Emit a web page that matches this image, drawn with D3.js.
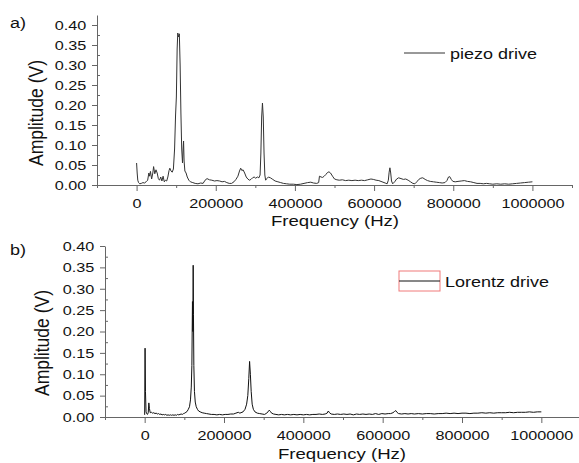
<!DOCTYPE html>
<html>
<head>
<meta charset="utf-8">
<script src="https://cdn.jsdelivr.net/npm/d3@7"></script>
<style>
  body { margin: 0; background: #fff; }
  svg { display: block; font-family: "Liberation Sans", Arial, sans-serif; }
</style>
</head>
<body>
<svg id="chart" width="579" height="463"></svg>
<script>
// piezo drive spectrum (Hz, V)
var piezoFreq = [0,1500,3000,5000,8000,12000,16000,20000,24000,28000,31000,33000,35000,38000,41000,43000,46000,49000,52000,55000,58000,61000,64000,67000,70000,73000,76000,79000,82000,84000,87000,90000,93000,96000,98500,100500,102500,104000,106000,108000,110000,112000,114000,116000,117500,118700,120000,122000,125000,128000,132000,136000,142000,148000,155000,162000,168000,173000,178000,184000,190000,197000,203000,210000,216000,222000,228000,234000,240000,246000,251000,256000,260000,263000,266000,269000,273000,277000,281000,285000,289000,293000,297000,301000,305000,309000,312000,314000,316000,318000,320000,322000,324000,326000,329000,333000,338000,344000,350000,357000,364000,371000,379000,387000,396000,405000,414000,423000,432000,440000,447000,455000,460000,462000,466000,470000,474000,478000,482000,486000,490000,495000,500000,506000,512000,520000,528000,536000,544000,552000,560000,568000,576000,584000,592000,598000,605000,612000,620000,628000,633000,636000,638000,640000,642000,644000,647000,652000,657000,662000,668000,674000,680000,686000,692000,698000,703000,708000,713000,718000,723000,729000,735000,742000,750000,757000,765000,772000,779000,784000,788000,791000,795000,799000,805000,812000,820000,828000,836000,844000,852000,860000,868000,876000,884000,892000,900000,910000,920000,930000,940000,950000,960000,970000,980000,990000,1000000];
var piezoAmp = [0.055,0.03,0.012,0.006,0.003,0.004,0.006,0.005,0.008,0.012,0.03,0.022,0.034,0.015,0.03,0.046,0.028,0.038,0.03,0.016,0.012,0.02,0.01,0.022,0.008,0.012,0.01,0.02,0.036,0.042,0.035,0.032,0.04,0.09,0.175,0.22,0.34,0.38,0.37,0.378,0.3,0.18,0.09,0.055,0.09,0.11,0.06,0.035,0.03,0.02,0.012,0.008,0.006,0.004,0.003,0.005,0.004,0.012,0.016,0.013,0.012,0.01,0.011,0.01,0.008,0.009,0.006,0.004,0.004,0.008,0.014,0.022,0.035,0.042,0.036,0.038,0.03,0.02,0.015,0.012,0.014,0.018,0.02,0.017,0.02,0.018,0.025,0.08,0.17,0.205,0.17,0.08,0.025,0.012,0.016,0.02,0.018,0.014,0.01,0.008,0.006,0.004,0.003,0.002,0.002,0.001,0.002,0.004,0.006,0.007,0.005,0.004,0.006,0.022,0.02,0.019,0.022,0.026,0.031,0.033,0.03,0.022,0.015,0.013,0.012,0.013,0.011,0.012,0.011,0.012,0.011,0.012,0.011,0.013,0.015,0.014,0.012,0.011,0.008,0.005,0.003,0.012,0.032,0.043,0.03,0.01,0.003,0.008,0.015,0.018,0.016,0.014,0.015,0.012,0.008,0.004,0.003,0.008,0.014,0.017,0.018,0.014,0.011,0.009,0.008,0.007,0.006,0.005,0.006,0.011,0.02,0.021,0.014,0.009,0.008,0.009,0.01,0.011,0.009,0.008,0.006,0.004,0.004,0.003,0.004,0.003,0.002,0.003,0.002,0.003,0.002,0.003,0.004,0.005,0.006,0.007,0.008];

// Lorentz drive spectrum (Hz, V)
var lorentzFreq = [0,1000,2000,3500,5000,7000,9000,10500,12000,14000,17000,20000,23000,26000,29000,32000,35000,38000,41000,44000,47000,50000,53000,56000,59000,62000,65000,68000,71000,74000,77000,80000,83000,86000,89000,92000,95000,98000,101000,104000,107000,110000,113000,115500,117500,119000,120500,121500,122300,123000,124000,125500,127500,130000,133000,136000,140000,145000,150000,156000,162000,168000,175000,182000,189000,196000,203000,210000,217000,224000,230000,236000,240000,248000,253000,257000,260000,262500,264500,266500,268500,271000,274000,278000,284000,290000,296000,302000,306000,311000,314000,317000,320000,325000,331000,338000,345000,352000,360000,368000,376000,384000,392000,400000,408000,416000,424000,432000,440000,448000,455000,460000,463000,466000,470000,478000,486000,494000,502000,510000,518000,526000,534000,542000,550000,558000,566000,574000,582000,590000,598000,606000,614000,620000,626000,630000,633000,636000,640000,648000,656000,664000,672000,680000,690000,700000,710000,720000,730000,740000,750000,760000,770000,780000,790000,800000,810000,820000,830000,840000,850000,860000,870000,880000,890000,900000,910000,920000,930000,940000,950000,960000,970000,980000,990000,1000000];
var lorentzAmp = [0.005,0.161,0.06,0.012,0.008,0.006,0.01,0.033,0.02,0.01,0.011,0.009,0.01,0.008,0.009,0.007,0.008,0.006,0.007,0.005,0.006,0.005,0.006,0.004,0.005,0.004,0.005,0.004,0.005,0.004,0.005,0.004,0.006,0.005,0.006,0.007,0.006,0.008,0.009,0.011,0.013,0.018,0.024,0.04,0.07,0.12,0.27,0.2,0.355,0.24,0.12,0.06,0.035,0.024,0.018,0.014,0.012,0.01,0.009,0.008,0.007,0.006,0.006,0.005,0.006,0.005,0.006,0.006,0.007,0.007,0.009,0.011,0.009,0.012,0.018,0.03,0.05,0.09,0.13,0.1,0.06,0.03,0.018,0.012,0.009,0.008,0.007,0.006,0.008,0.012,0.016,0.013,0.009,0.007,0.006,0.005,0.006,0.005,0.006,0.005,0.006,0.005,0.006,0.005,0.006,0.005,0.006,0.006,0.007,0.006,0.007,0.009,0.014,0.01,0.007,0.006,0.007,0.006,0.007,0.006,0.007,0.005,0.007,0.006,0.007,0.006,0.007,0.006,0.008,0.006,0.008,0.007,0.008,0.008,0.01,0.013,0.015,0.011,0.008,0.007,0.008,0.007,0.008,0.007,0.008,0.007,0.008,0.008,0.007,0.008,0.008,0.009,0.008,0.009,0.008,0.009,0.009,0.008,0.009,0.009,0.01,0.009,0.01,0.009,0.01,0.01,0.01,0.011,0.01,0.011,0.011,0.011,0.012,0.011,0.012,0.012];

var xMajor = [0, 200000, 400000, 600000, 800000, 1000000];
var xMinor = [-100000, 100000, 300000, 500000, 700000, 900000, 1100000];
var yMajor = [0, 0.05, 0.10, 0.15, 0.20, 0.25, 0.30, 0.35, 0.40];
var yMinor = [0.025, 0.075, 0.125, 0.175, 0.225, 0.275, 0.325, 0.375];

var svg = d3.select("#chart");
var axisColor = "#666";
var stretch = "scale(1.2,1)";

function panel(p) {
  var x = d3.scaleLinear().domain([-100000, 1100000]).range([p.left, p.right]);
  var y = d3.scaleLinear().domain([0, p.yMax]).range([p.bottom, p.top]);
  var g = svg.append("g");

  // minor ticks
  g.append("g").attr("transform", "translate(0," + p.bottom + ")")
    .call(d3.axisBottom(x).tickValues(xMinor).tickSize(3).tickFormat(""))
    .call(s => s.select(".domain").remove());
  g.append("g").attr("transform", "translate(" + p.left + ",0)")
    .call(d3.axisRight(y).tickValues(yMinor).tickSize(3).tickFormat(""))
    .call(s => s.select(".domain").remove());

  var xa = g.append("g").attr("transform", "translate(0," + p.bottom + ")")
    .call(d3.axisBottom(x).tickValues(xMajor).tickSize(6).tickSizeOuter(0).tickPadding(7).tickFormat(d3.format("d")));
  var ya = g.append("g").attr("transform", "translate(" + p.left + ",0)")
    .call(d3.axisLeft(y).tickValues(yMajor).tickSize(5).tickSizeOuter(0).tickPadding(4).tickFormat(d3.format(".2f")));

  [xa, ya].forEach(function(a) {
    a.attr("font-family", null).attr("font-size", 13.5);
    a.selectAll("text").attr("fill", "#111").attr("transform", stretch);
  });
  g.selectAll(".domain, .tick line").attr("stroke", axisColor);

  var line = d3.line().x(d => x(d[0])).y(d => y(d[1]));
  g.append("path")
    .datum(d3.zip(p.freq, p.amp))
    .attr("d", line)
    .attr("fill", "none")
    .attr("stroke", p.color)
    .attr("stroke-width", 1)
    .attr("stroke-linejoin", "round");

  // axis titles
  g.append("text")
    .attr("transform", "translate(" + p.xTitle[0] + "," + p.xTitle[1] + ") " + stretch)
    .attr("text-anchor", "middle").attr("font-size", 15.5).attr("fill", "#111")
    .text("Frequency (Hz)");
  g.append("text")
    .attr("transform", "translate(" + p.yTitle[0] + "," + p.yTitle[1] + ") rotate(-90) scale(1,1.15)")
    .attr("text-anchor", "middle").attr("font-size", 17.5).attr("fill", "#111")
    .text("Amplitude (V)");
  g.append("text")
    .attr("transform", "translate(" + p.tag[0] + "," + p.tag[1] + ") " + stretch)
    .attr("font-size", 15).attr("fill", "#111")
    .text(p.tagText);

  // legend
  var lg = g.append("g").attr("transform", "translate(" + p.legend[0] + "," + p.legend[1] + ")");
  if (p.box) {
    lg.append("rect").attr("x", -5).attr("y", -10).attr("width", 41).attr("height", 20)
      .attr("fill", "none").attr("stroke", "#f07a7a").attr("stroke-width", 1);
  }
  lg.append("line").attr("x1", -5).attr("x2", 36).attr("y1", 0).attr("y2", 0)
    .attr("stroke", p.color).attr("stroke-width", 1);
  lg.append("text")
    .attr("transform", "translate(" + p.legendTextX + ",5.5) " + stretch)
    .attr("font-size", 15).attr("fill", "#111")
    .text(p.name);
}

panel({
  left: 97, right: 572, top: 15, bottom: 185, yMax: 0.425,
  freq: piezoFreq, amp: piezoAmp, color: "#333",
  xTitle: [335, 226], yTitle: [43, 113], tag: [10, 28], tagText: "a)",
  legend: [409, 53], legendTextX: 41, name: "piezo drive", box: false
});

panel({
  left: 105, right: 581, top: 246, bottom: 417, yMax: 0.40,
  freq: lorentzFreq, amp: lorentzAmp, color: "#111",
  xTitle: [342, 459], yTitle: [49, 343], tag: [10, 255], tagText: "b)",
  legend: [404, 281], legendTextX: 41, name: "Lorentz drive", box: true
});
</script>
</body>
</html>
